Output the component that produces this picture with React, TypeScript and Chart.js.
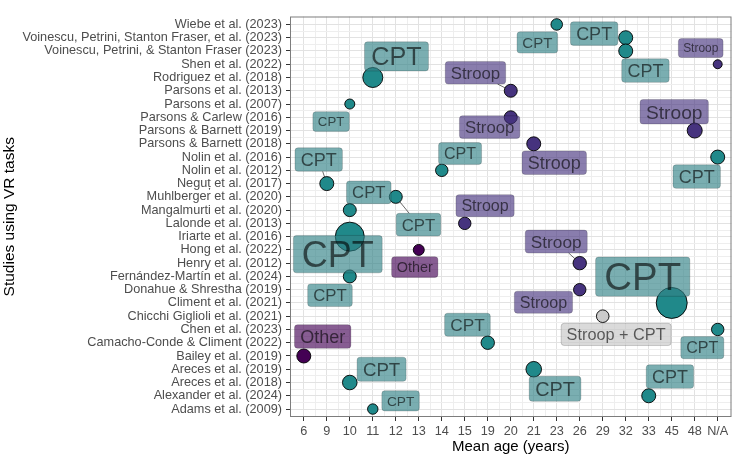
import { useEffect, useRef } from 'react';
import { Chart, registerables } from 'chart.js';

Chart.register(...registerables);

const FONT = "'Liberation Sans', Arial, Helvetica, sans-serif";

const studies = [
  'Wiebe et al. (2023)',
  'Voinescu, Petrini, Stanton Fraser, et al. (2023)',
  'Voinescu, Petrini, & Stanton Fraser (2023)',
  'Shen et al. (2022)',
  'Rodriguez et al. (2018)',
  'Parsons et al. (2013)',
  'Parsons et al. (2007)',
  'Parsons & Carlew (2016)',
  'Parsons & Barnett (2019)',
  'Parsons & Barnett (2018)',
  'Nolin et al. (2016)',
  'Nolin et al. (2012)',
  'Neguț et al. (2017)',
  'Muhlberger et al. (2020)',
  'Mangalmurti et al. (2020)',
  'Lalonde et al. (2013)',
  'Iriarte et al. (2016)',
  'Hong et al. (2022)',
  'Henry et al. (2012)',
  'Fernández-Martín et al. (2024)',
  'Donahue & Shrestha (2019)',
  'Climent et al. (2021)',
  'Chicchi Giglioli et al. (2021)',
  'Chen et al. (2023)',
  'Camacho-Conde & Climent (2022)',
  'Bailey et al. (2019)',
  'Areces et al. (2019)',
  'Areces et al. (2018)',
  'Alexander et al. (2024)',
  'Adams et al. (2009)',
];

const ageCategories = ['6', '9', '10', '11', '12', '13', '14', '15', '19', '20', '21', '23', '26', '29', '32', '33', '45', '48', 'N/A'];

const studyAge = [
  '23', '32', '32', 'N/A', '11', '20', '10', '20', '48', '21',
  'N/A', '14', '9', '12', '10', '15', '10', '13', '26', '10',
  '26', '45', '29', 'N/A', '19', '6', '21', '10', '33', '11',
];

const studyTask = [
  'CPT', 'CPT', 'CPT', 'Stroop', 'CPT', 'Stroop', 'CPT', 'Stroop', 'Stroop', 'Stroop',
  'CPT', 'CPT', 'CPT', 'CPT', 'CPT', 'Stroop', 'CPT', 'Other', 'Stroop', 'CPT',
  'Stroop', 'CPT', 'Stroop + CPT', 'CPT', 'CPT', 'Other', 'CPT', 'CPT', 'CPT', 'CPT',
];

const sampleSize = [
  70, 100, 100, 44, 196, 87, 54, 87, 114, 100,
  100, 80, 100, 87, 87, 80, 400, 64, 92, 87,
  80, 455, 82, 80, 92, 100, 122, 108, 100, 58,
];

const taskTypes = ['CPT', 'Stroop', 'Other', 'Stroop + CPT'];
const taskColors: Record<string, string> = {
  CPT: '#20898a',
  Stroop: '#46337E',
  Other: '#440154',
  'Stroop + CPT': '#cbcbcb',
};
const labelFills: Record<string, string> = {
  CPT: 'rgba(50,130,135,0.65)',
  Stroop: 'rgba(70,51,126,0.64)',
  Other: 'rgba(68,1,84,0.64)',
  'Stroop + CPT': 'rgba(200,200,200,0.68)',
};

// label placement relative to the point (px), as a repel layout would give
const labelDx = [-19.4, -31.6, 19.7, -17, 23.7, -35.3, -18.7, -21.1, -20.5, 20.5, -21, 18.3, -8.1, 22.7, 19, 20.3, -12, -4, -23.5, -19.8, -36.3, -29, 13.4, -15.4, -20.3, 18.9, 21.3, 31.8, 21.2, 27.8];
const labelDy = [18, -4.1, 19.6, -16.2, -21.1, -18, 17.6, 9.8, -18.8, 18.9, 19.5, -16.8, -24, 27.8, -17.8, -17.7, 17.5, 17.2, -21.6, 18.8, 12.5, -26.3, 18.2, 18.2, -18, -19.5, 19.5, -13.3, -19.2, -8.2];
const labelSegment = [false, false, false, false, false, true, false, false, false, false, false, false, true, true, false, false, false, false, true, false, false, false, false, false, false, false, false, false, false, false];

const radiusOf = (n: number) => 0.75 * Math.sqrt(n);

function ticksFor(count: number) {
  const t: { value: number }[] = [];
  for (let v = 0; v <= (count - 1) * 2; v++) t.push({ value: v / 2 });
  return t;
}

function labelGeometry(ctx: CanvasRenderingContext2D, i: number, px: number, py: number) {
  const fs = 2.4 * radiusOf(sampleSize[i]);
  ctx.font = `${fs}px ${FONT}`;
  const text = studyTask[i];
  const tw = ctx.measureText(text).width;
  const padX = 3 + 0.15 * fs;
  const w = tw + 2 * padX;
  const h = 0.77 * fs + 9.7;
  const cx = px + labelDx[i];
  const cy = py + labelDy[i];
  return { fs, text, w, h, cx, cy, x0: cx - w / 2, y0: cy - h / 2, x1: cx + w / 2, y1: cy + h / 2 };
}

const repelPlugin = {
  id: 'repelLabels',
  beforeDatasetsDraw(chart: any) {
    const { ctx, chartArea: a, scales } = chart;
    ctx.save();
    ctx.strokeStyle = '#7d7d7d';
    ctx.lineWidth = 1;
    ctx.strokeRect(a.left + 0.5, a.top + 0.5, a.right - a.left - 1, a.bottom - a.top - 1);
    ctx.strokeStyle = 'rgba(0,0,0,0.65)';
    ctx.lineWidth = 0.9;
    studies.forEach((_, i) => {
      if (!labelSegment[i]) return;
      const px = scales.x.getPixelForValue(ageCategories.indexOf(studyAge[i]));
      const py = scales.y.getPixelForValue(i);
      const g = labelGeometry(ctx, i, px, py);
      const dx = g.cx - px;
      const dy = g.cy - py;
      const tx = dx > 0 ? (g.x0 - px) / dx : dx < 0 ? (g.x1 - px) / dx : -Infinity;
      const ty = dy > 0 ? (g.y0 - py) / dy : dy < 0 ? (g.y1 - py) / dy : -Infinity;
      const t = Math.max(tx, ty);
      ctx.beginPath();
      ctx.moveTo(px, py);
      ctx.lineTo(px + dx * t, py + dy * t);
      ctx.stroke();
    });
    ctx.restore();
  },
  afterDatasetsDraw(chart: any) {
    const { ctx, scales } = chart;
    ctx.save();
    studies.forEach((_, i) => {
      const px = scales.x.getPixelForValue(ageCategories.indexOf(studyAge[i]));
      const py = scales.y.getPixelForValue(i);
      const g = labelGeometry(ctx, i, px, py);
      ctx.beginPath();
      ctx.roundRect(g.x0, g.y0, g.w, g.h, 3);
      ctx.fillStyle = labelFills[studyTask[i]];
      ctx.fill();
      ctx.strokeStyle = 'rgba(0,0,0,0.22)';
      ctx.lineWidth = 0.8;
      ctx.stroke();
      ctx.fillStyle = 'rgba(0,0,0,0.6)';
      ctx.textAlign = 'center';
      ctx.textBaseline = 'alphabetic';
      ctx.fillText(g.text, g.cx, g.cy + 0.358 * g.fs);
    });
    ctx.restore();
  },
};

export default function App() {
  const canvasRef = useRef<HTMLCanvasElement | null>(null);

  useEffect(() => {
    if (!canvasRef.current) return;
    Chart.defaults.font.family = FONT;

    const datasets = taskTypes.map((task) => {
      const idx = studies.map((_, i) => i).filter((i) => studyTask[i] === task);
      return {
        label: task,
        data: idx.map((i) => ({
          x: ageCategories.indexOf(studyAge[i]),
          y: i,
          r: radiusOf(sampleSize[i]) - 0.5,
        })),
        backgroundColor: taskColors[task],
        borderColor: 'rgba(0,0,0,0.9)',
        borderWidth: 1,
      };
    });

    const gridColor = (c: any) =>
      Number.isInteger(c.tick?.value) ? '#e2e2e2' : '#eeeeee';
    const tickColor = (c: any) =>
      Number.isInteger(c.tick?.value) ? '#333333' : 'rgba(0,0,0,0)';

    const chart = new Chart(canvasRef.current, {
      type: 'bubble',
      data: { datasets },
      plugins: [repelPlugin],
      options: {
        responsive: false,
        animation: false,
        events: [],
        layout: { padding: { top: 1, right: 2, bottom: 0, left: 0 } },
        plugins: { legend: { display: false }, tooltip: { enabled: false } },
        scales: {
          x: {
            type: 'linear',
            position: 'bottom',
            min: -0.6,
            max: ageCategories.length - 0.4,
            afterBuildTicks: (s: any) => { s.ticks = ticksFor(ageCategories.length); },
            afterFit: (s: any) => {
              s.height = 40;
              s.paddingLeft = 0;
              s.paddingRight = 0;
            },
            grid: { color: gridColor, tickColor, tickLength: 4, lineWidth: 1 },
            border: { display: false },
            ticks: {
              autoSkip: false,
              maxRotation: 0,
              minRotation: 0,
              padding: 3,
              color: '#4d4d4d',
              font: { size: 12.7, family: FONT },
              callback: (v: any) => (Number.isInteger(v) ? ageCategories[v] : ''),
            },
            title: {
              display: true,
              text: 'Mean age (years)',
              color: '#000000',
              font: { size: 15, family: FONT },
              padding: { top: 0, bottom: 1.5 },
            },
          },
          y: {
            type: 'linear',
            position: 'left',
            reverse: true,
            min: -0.6,
            max: studies.length - 0.4,
            afterBuildTicks: (s: any) => { s.ticks = ticksFor(studies.length); },
            afterFit: (s: any) => {
              s.width = 290;
              s.paddingTop = 0;
              s.paddingBottom = 0;
            },
            grid: { color: gridColor, tickColor, tickLength: 4, lineWidth: 1 },
            border: { display: false },
            ticks: {
              autoSkip: false,
              padding: 4,
              color: '#4d4d4d',
              font: { size: 12.7, family: FONT },
              callback: (v: any) => (Number.isInteger(v) ? studies[v] : ''),
            },
            title: {
              display: true,
              text: 'Studies using VR tasks',
              color: '#000000',
              font: { size: 15.5, family: FONT },
              padding: { top: 0, bottom: 0 },
            },
          },
        },
      } as any,
    });

    return () => chart.destroy();
  }, []);

  return (
    <div style={{ position: 'absolute', left: 0, top: 0, width: 748, height: 457, background: '#ffffff' }}>
      <canvas ref={canvasRef} width={748} height={457} style={{ display: 'block' }} />
    </div>
  );
}
